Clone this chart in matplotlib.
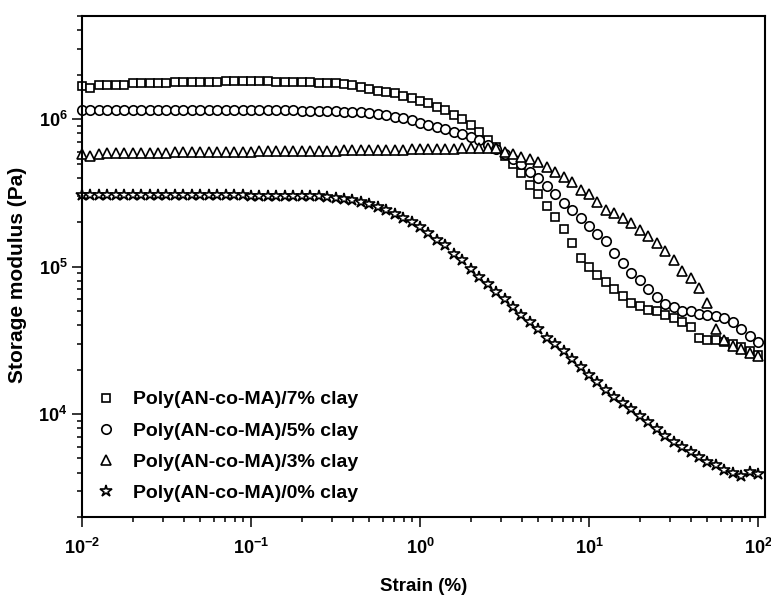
import numpy as np
import matplotlib
matplotlib.use("Agg")
import matplotlib.pyplot as plt
from matplotlib.ticker import LogLocator, FuncFormatter, NullFormatter

plt.rcParams['font.family'] = ['Liberation Sans', 'DejaVu Sans']
plt.rcParams['font.weight'] = 'bold'
plt.rcParams['mathtext.fontset'] = 'custom'
plt.rcParams['mathtext.rm'] = 'Liberation Sans:bold'
plt.rcParams['mathtext.bf'] = 'Liberation Sans:bold'
plt.rcParams['mathtext.default'] = 'rm'

# strain sweep, 20 points per decade
strain = [
    0.0100, 0.0112, 0.0126, 0.0141, 0.0158, 0.0178, 0.0200, 0.0224, 0.0251, 0.0282,
    0.0316, 0.0355, 0.0398, 0.0447, 0.0501, 0.0562, 0.0631, 0.0708, 0.0794, 0.0891,
    0.100, 0.112, 0.126, 0.141, 0.158, 0.178, 0.200, 0.224, 0.251, 0.282,
    0.316, 0.355, 0.398, 0.447, 0.501, 0.562, 0.631, 0.708, 0.794, 0.891,
    1.00, 1.12, 1.26, 1.41, 1.58, 1.78, 2.00, 2.24, 2.51, 2.82,
    3.16, 3.55, 3.98, 4.47, 5.01, 5.62, 6.31, 7.08, 7.94, 8.91,
    10.0, 11.2, 12.6, 14.1, 15.8, 17.8, 20.0, 22.4, 25.1, 28.2,
    31.6, 35.5, 39.8, 44.7, 50.1, 56.2, 63.1, 70.8, 79.4, 89.1,
    100.0,
]

# storage modulus G' (Pa)
clay7 = [
    1.67e6, 1.62e6, 1.70e6, 1.70e6, 1.70e6, 1.70e6, 1.75e6, 1.75e6, 1.75e6, 1.75e6,
    1.75e6, 1.78e6, 1.78e6, 1.78e6, 1.78e6, 1.78e6, 1.78e6, 1.81e6, 1.81e6, 1.81e6,
    1.81e6, 1.81e6, 1.81e6, 1.78e6, 1.78e6, 1.78e6, 1.78e6, 1.78e6, 1.75e6, 1.75e6,
    1.75e6, 1.72e6, 1.70e6, 1.64e6, 1.60e6, 1.55e6, 1.52e6, 1.50e6, 1.43e6, 1.39e6,
    1.32e6, 1.28e6, 1.21e6, 1.15e6, 1.06e6, 1.00e6, 9.1e5, 8.2e5, 7.2e5, 6.5e5,
    5.6e5, 5.0e5, 4.3e5, 3.6e5, 3.1e5, 2.58e5, 2.18e5, 1.81e5, 1.45e5, 1.15e5,
    1.00e5, 8.7e4, 7.8e4, 7.0e4, 6.3e4, 5.7e4, 5.4e4, 5.1e4, 5.0e4, 4.7e4,
    4.5e4, 4.2e4, 3.9e4, 3.3e4, 3.2e4, 3.16e4, 3.1e4, 2.97e4, 2.84e4, 2.67e4,
    2.5e4,
]
clay5 = [
    1.15e6, 1.15e6, 1.15e6, 1.15e6, 1.15e6, 1.15e6, 1.15e6, 1.15e6, 1.15e6, 1.15e6,
    1.15e6, 1.15e6, 1.15e6, 1.15e6, 1.15e6, 1.15e6, 1.15e6, 1.15e6, 1.15e6, 1.15e6,
    1.15e6, 1.15e6, 1.15e6, 1.15e6, 1.15e6, 1.15e6, 1.13e6, 1.13e6, 1.13e6, 1.13e6,
    1.13e6, 1.11e6, 1.11e6, 1.11e6, 1.10e6, 1.08e6, 1.06e6, 1.03e6, 1.02e6, 9.8e5,
    9.4e5, 9.1e5, 8.8e5, 8.6e5, 8.2e5, 7.9e5, 7.6e5, 7.2e5, 6.7e5, 6.3e5,
    5.8e5, 5.4e5, 5.0e5, 4.4e5, 4.0e5, 3.5e5, 3.1e5, 2.7e5, 2.43e5, 2.14e5,
    1.89e5, 1.67e5, 1.48e5, 1.24e5, 1.05e5, 9.0e4, 8.1e4, 7.0e4, 6.2e4, 5.6e4,
    5.3e4, 5.0e4, 5.0e4, 4.8e4, 4.7e4, 4.6e4, 4.5e4, 4.2e4, 3.8e4, 3.4e4,
    3.06e4,
]
clay3 = [
    5.8e5, 5.6e5, 5.8e5, 5.9e5, 5.9e5, 5.9e5, 5.9e5, 5.9e5, 5.9e5, 5.9e5,
    5.9e5, 6.0e5, 6.0e5, 6.0e5, 6.0e5, 6.0e5, 6.0e5, 6.0e5, 6.0e5, 6.0e5,
    6.0e5, 6.1e5, 6.1e5, 6.1e5, 6.1e5, 6.1e5, 6.1e5, 6.1e5, 6.1e5, 6.1e5,
    6.1e5, 6.2e5, 6.2e5, 6.2e5, 6.2e5, 6.2e5, 6.2e5, 6.2e5, 6.2e5, 6.3e5,
    6.3e5, 6.3e5, 6.3e5, 6.3e5, 6.3e5, 6.4e5, 6.4e5, 6.4e5, 6.4e5, 6.4e5,
    6.0e5, 5.8e5, 5.5e5, 5.4e5, 5.1e5, 4.7e5, 4.4e5, 4.05e5, 3.75e5, 3.3e5,
    3.1e5, 2.75e5, 2.43e5, 2.32e5, 2.14e5, 1.98e5, 1.78e5, 1.60e5, 1.45e5, 1.28e5,
    1.10e5, 9.4e4, 8.3e4, 7.2e4, 5.7e4, 3.8e4, 3.2e4, 2.9e4, 2.75e4, 2.6e4,
    2.47e4,
]
clay0 = [
    3.06e5, 3.06e5, 3.06e5, 3.06e5, 3.06e5, 3.06e5, 3.06e5, 3.06e5, 3.06e5, 3.06e5,
    3.06e5, 3.06e5, 3.06e5, 3.06e5, 3.06e5, 3.06e5, 3.06e5, 3.06e5, 3.06e5, 3.06e5,
    3.02e5, 3.02e5, 3.02e5, 3.02e5, 3.02e5, 3.02e5, 3.02e5, 3.02e5, 3.02e5, 2.97e5,
    2.93e5, 2.88e5, 2.84e5, 2.75e5, 2.67e5, 2.54e5, 2.43e5, 2.28e5, 2.14e5, 2.01e5,
    1.86e5, 1.70e5, 1.52e5, 1.39e5, 1.22e5, 1.10e5, 9.7e4, 8.5e4, 7.6e4, 6.7e4,
    6.0e4, 5.3e4, 4.7e4, 4.2e4, 3.75e4, 3.3e4, 2.97e4, 2.67e4, 2.36e4, 2.08e4,
    1.84e4, 1.65e4, 1.45e4, 1.30e4, 1.19e4, 1.08e4, 9.7e3, 8.8e3, 7.9e3, 7.1e3,
    6.5e3, 6.0e3, 5.5e3, 5.1e3, 4.7e3, 4.5e3, 4.2e3, 4.0e3, 3.8e3, 4.05e3,
    3.9e3,
]

labels = ["Poly(AN-co-MA)/7% clay", "Poly(AN-co-MA)/5% clay",
          "Poly(AN-co-MA)/3% clay", "Poly(AN-co-MA)/0% clay"]


def main():
    fig = plt.figure(figsize=(7.71, 5.97), dpi=100)
    ax = fig.add_axes([0.1064, 0.134, 0.886, 0.839])

    style = dict(linestyle='none', mfc='white', mec='black', mew=1.2, clip_on=False)
    ax.plot(strain, clay7, marker='s', ms=5.8, label=labels[0], **style)
    ax.plot(strain, clay5, marker='o', ms=6.8, label=labels[1], **style)
    ax.plot(strain, clay3, marker='^', ms=7.4, label=labels[2], **style)
    ax.plot(strain, clay0, marker='*', ms=9, label=labels[3], **style)

    ax.set_xscale('log')
    ax.set_yscale('log')
    ax.set_xlim(0.01, 110)
    ax.set_ylim(2e3, 5e6)

    fmt = FuncFormatter(lambda v, pos: r'$\mathbf{10^{%d}}$' % round(np.log10(v)))
    for axis in (ax.xaxis, ax.yaxis):
        axis.set_major_locator(LogLocator(base=10))
        axis.set_minor_locator(LogLocator(base=10, subs=np.arange(2, 10)))
        axis.set_major_formatter(fmt)
        axis.set_minor_formatter(NullFormatter())

    ax.tick_params(which='both', direction='out', width=1.1, top=False, right=False,
                   labelsize=13)
    ax.tick_params(which='major', length=7)
    ax.tick_params(which='minor', length=3.6)
    ax.tick_params(axis='x', which='major', pad=8)
    for sp in ax.spines.values():
        sp.set_linewidth(1.5)

    ax.set_xlabel("Strain (%)", fontsize=13.5, fontweight='bold')
    ax.xaxis.set_label_coords(0.5, -0.122)
    ax.set_ylabel("Storage modulus (Pa)", fontsize=15, fontweight='bold')
    ax.yaxis.set_label_coords(-0.081, 0.483)

    ax.legend(loc='lower left', bbox_to_anchor=(0.0205, 0.03), frameon=False,
              numpoints=1, handlelength=1.0, handletextpad=0.9,
              labelspacing=0.7, borderpad=0, borderaxespad=0,
              prop={'size': 14, 'weight': 'bold'})

    fig.savefig("out.png", dpi=100)


if __name__ == "__main__":
    main()
